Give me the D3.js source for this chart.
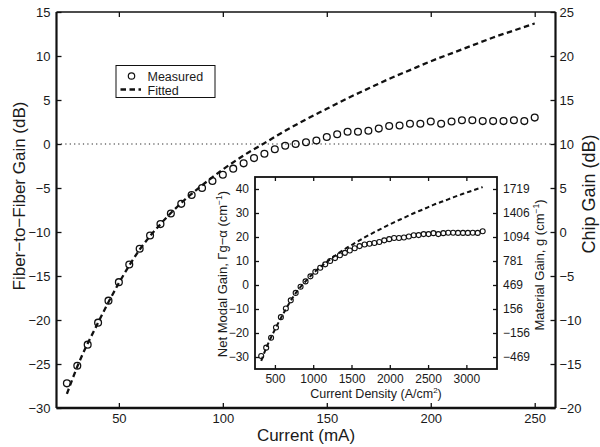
<!DOCTYPE html>
<html><head><meta charset="utf-8">
<script src="https://cdn.jsdelivr.net/npm/d3@7"></script>
<style>
body{margin:0;background:#fff}
svg{display:block}
text{font-family:"Liberation Sans",Arial,sans-serif;fill:#1a1a1a}
</style>
</head><body>
<svg id="chart" width="600" height="447"></svg>
<script>
// ---------- data ----------
const currents = [25,30,35,40,45,50,55,60,65,70,75,80,85,90,95,100,105,110,115,120,125,130,135,140,145,150,155,160,165,170,175,180,185,190,195,200,205,210,215,220,225,230,235,240,245,250];
const measuredGain = [-27.2,-25.2,-22.8,-20.3,-17.8,-15.7,-13.7,-11.9,-10.4,-9.1,-7.9,-6.8,-5.8,-5.0,-4.2,-3.5,-2.8,-2.2,-1.6,-1.1,-0.6,-0.2,0.0,0.2,0.4,0.8,1.1,1.4,1.4,1.5,1.75,2.05,2.1,2.3,2.3,2.55,2.3,2.55,2.7,2.7,2.6,2.6,2.6,2.7,2.6,3.0];
const fitCurrents = [25,30,40,50,60,70,80,90,100,110,120,130,140,150,160,170,180,190,200,210,220,230,240,250];
const fittedGain = [-28.4,-25.3,-20.3,-15.8,-12.0,-9.1,-6.7,-4.7,-2.9,-1.3,0.1,1.5,2.8,4.0,5.2,6.3,7.4,8.4,9.4,10.3,11.2,12.1,12.9,13.7];

const insetDensity = [321,386,450,514,578,643,707,771,835,900,964,1028,1092,1157,1221,1285,1349,1414,1478,1542,1606,1671,1735,1799,1863,1928,1992,2056,2120,2185,2249,2313,2377,2442,2506,2570,2634,2699,2763,2827,2891,2956,3020,3084,3148,3213];
const insetMeasured = [-29.6,-26.1,-22.0,-17.7,-13.4,-9.8,-6.4,-3.3,-0.7,1.5,3.6,5.5,7.2,8.6,10.0,11.2,12.4,13.4,14.4,15.3,16.2,16.9,17.2,17.5,17.9,18.6,19.1,19.6,19.6,19.8,20.2,20.7,20.8,21.2,21.2,21.6,21.2,21.6,21.8,21.8,21.7,21.7,21.7,21.8,21.7,22.4];
const insetFitDensity = [321,386,514,643,771,900,1028,1157,1285,1414,1542,1671,1799,1928,2056,2185,2313,2442,2570,2699,2827,2956,3084,3213];
const insetFitted = [-31.6,-26.3,-17.7,-10.0,-3.4,1.5,5.7,9.1,12.2,15.0,17.4,19.8,22.0,24.1,26.1,28.0,29.9,31.6,33.4,34.9,36.5,38.0,39.4,40.8];

const xTicks = [50,100,150,200,250];
const leftTicks = [-30,-25,-20,-15,-10,-5,0,5,10,15];
const rightTicks = [-20,-15,-10,-5,0,5,10,15,20,25];
const insetXTicks = [500,1000,1500,2000,2500,3000];
const insetLeftTicks = [-30,-20,-10,0,10,20,30,40];
const insetRightLabels = ["\u2212469","\u2212156","156","469","781","1094","1406","1719"];

// ---------- layout ----------
const svg = d3.select("#chart");
const M = {l:56.5, r:555.5, t:12, b:408};
const I = {l:255, r:497, t:177, b:369};

const x = d3.scaleLinear().domain([20,260]).range([M.l,M.r]);
const yL = d3.scaleLinear().domain([-30,15]).range([M.b,M.t]);
const yR = d3.scaleLinear().domain([-20,25]).range([M.b,M.t]);
const ix = d3.scaleLinear().domain([240,3400]).range([I.l,I.r]);
const iy = d3.scaleLinear().domain([-35,45]).range([I.b,I.t]);

const fmt = d => d<0 ? "\u2212"+Math.abs(d) : String(d);

function styleAxis(g, fs){
  g.select(".domain").remove();
  g.selectAll(".tick line").attr("stroke","#111").attr("stroke-width",1.3);
  g.selectAll(".tick text").attr("font-size",fs).attr("fill","#1a1a1a")
   .style("font-family",'"Liberation Sans",Arial,sans-serif');
}

// ---------- main axes ----------
svg.append("g").attr("transform",`translate(0,${M.b})`)
  .call(d3.axisBottom(x).tickValues(xTicks).tickSize(-5).tickPadding(6).tickFormat(fmt))
  .call(g=>styleAxis(g,13));
svg.append("g").attr("transform",`translate(0,${M.t})`)
  .call(d3.axisTop(x).tickValues(xTicks).tickSize(-5).tickFormat(""))
  .call(g=>styleAxis(g,13));
svg.append("g").attr("transform",`translate(${M.l},0)`)
  .call(d3.axisLeft(yL).tickValues(leftTicks).tickSize(-5).tickPadding(6).tickFormat(fmt))
  .call(g=>styleAxis(g,13));
svg.append("g").attr("transform",`translate(${M.r},0)`)
  .call(d3.axisRight(yR).tickValues(rightTicks).tickSize(-5).tickPadding(4).tickFormat(fmt))
  .call(g=>styleAxis(g,13));

// frame
svg.append("line").attr("x1",M.l).attr("x2",M.r).attr("y1",M.t).attr("y2",M.t).attr("stroke","#111").attr("stroke-width",1.6);
svg.append("line").attr("x1",M.l).attr("x2",M.r).attr("y1",M.b).attr("y2",M.b).attr("stroke","#111").attr("stroke-width",2.4);
svg.append("line").attr("x1",M.l).attr("x2",M.l).attr("y1",M.t).attr("y2",M.b).attr("stroke","#111").attr("stroke-width",2.2);
svg.append("line").attr("x1",M.r).attr("x2",M.r).attr("y1",M.t).attr("y2",M.b).attr("stroke","#111").attr("stroke-width",2.2);

// zero dotted line
svg.append("line").attr("x1",M.l).attr("x2",M.r).attr("y1",yL(0)).attr("y2",yL(0))
  .attr("stroke","#222").attr("stroke-width",1.1).attr("stroke-dasharray","1.2,3.2");

// fitted
const mainLine = d3.line().x((d,i)=>x(fitCurrents[i])).y(d=>yL(d)).curve(d3.curveMonotoneX);
svg.append("path").attr("d",mainLine(fittedGain)).attr("fill","none")
  .attr("stroke","#111").attr("stroke-width",2.3).attr("stroke-dasharray","5.5,3.5");

// measured
svg.append("g").selectAll("circle").data(measuredGain).join("circle")
  .attr("cx",(d,i)=>x(currents[i])).attr("cy",d=>yL(d)).attr("r",3.4)
  .attr("fill","none").attr("stroke","#111").attr("stroke-width",1.3);

// axis labels
svg.append("text").attr("x",(M.l+M.r)/2).attr("y",441).attr("text-anchor","middle")
  .attr("font-size",17).text("Current (mA)");
svg.append("text").attr("transform",`translate(24.5,196) rotate(-90)`).attr("text-anchor","middle")
  .attr("font-size",17).text("Fiber\u2212to\u2212Fiber Gain (dB)");
svg.append("text").attr("transform",`translate(595,194) rotate(-90)`).attr("text-anchor","middle")
  .attr("font-size",18).text("Chip Gain (dB)");

// legend
const lg = svg.append("g");
lg.append("rect").attr("x",116).attr("y",65.5).attr("width",99).attr("height",32)
  .attr("fill","#fff").attr("stroke","#111").attr("stroke-width",1);
lg.append("circle").attr("cx",131.5).attr("cy",76).attr("r",3.2).attr("fill","none").attr("stroke","#111").attr("stroke-width",1.2);
lg.append("line").attr("x1",120.5).attr("x2",141).attr("y1",89.5).attr("y2",89.5)
  .attr("stroke","#111").attr("stroke-width",2.3).attr("stroke-dasharray","5.5,3.5");
lg.append("text").attr("x",147.5).attr("y",80.5).attr("font-size",12.5).text("Measured");
lg.append("text").attr("x",147.5).attr("y",94.5).attr("font-size",12.5).text("Fitted");

// ---------- inset ----------
const ins = svg.append("g");
ins.append("rect").attr("x",I.l).attr("y",I.t).attr("width",I.r-I.l).attr("height",I.b-I.t)
  .attr("fill","#fff").attr("stroke","none");

ins.append("g").attr("transform",`translate(0,${I.b})`)
  .call(d3.axisBottom(ix).tickValues(insetXTicks).tickSize(-4).tickPadding(5).tickFormat(d3.format("d")))
  .call(g=>styleAxis(g,12));
ins.append("g").attr("transform",`translate(0,${I.t})`)
  .call(d3.axisTop(ix).tickValues(insetXTicks).tickSize(-4).tickFormat(""))
  .call(g=>styleAxis(g,12));
ins.append("g").attr("transform",`translate(${I.l},0)`)
  .call(d3.axisLeft(iy).tickValues(insetLeftTicks).tickSize(-4).tickPadding(6).tickFormat(fmt))
  .call(g=>styleAxis(g,12));
ins.append("g").attr("transform",`translate(${I.r},0)`)
  .call(d3.axisRight(iy).tickValues(insetLeftTicks).tickSize(-4).tickPadding(6)
    .tickFormat((d,i)=>insetRightLabels[i]))
  .call(g=>styleAxis(g,12));

ins.append("rect").attr("x",I.l).attr("y",I.t).attr("width",I.r-I.l).attr("height",I.b-I.t)
  .attr("fill","none").attr("stroke","#111").attr("stroke-width",1.8);

const insLine = d3.line().x((d,i)=>ix(insetFitDensity[i])).y(d=>iy(d)).curve(d3.curveMonotoneX);
ins.append("path").attr("d",insLine(insetFitted)).attr("fill","none")
  .attr("stroke","#111").attr("stroke-width",2).attr("stroke-dasharray","4.5,3");
ins.append("g").selectAll("circle").data(insetMeasured).join("circle")
  .attr("cx",(d,i)=>ix(insetDensity[i])).attr("cy",d=>iy(d)).attr("r",2.5)
  .attr("fill","none").attr("stroke","#111").attr("stroke-width",1.1);

// inset labels
const xl = ins.append("text").attr("x",(I.l+I.r)/2).attr("y",398).attr("text-anchor","middle").attr("font-size",12.5);
xl.append("tspan").text("Current Density (A/cm");
xl.append("tspan").attr("font-size",8).attr("dy",-5).text("2");
xl.append("tspan").attr("dy",5).text(")");

const yl = ins.append("text").attr("transform",`translate(227,274) rotate(-90)`)
  .attr("text-anchor","middle").attr("font-size",13);
yl.append("tspan").text("Net Modal Gain, \u0393g\u2212\u03b1 (cm");
yl.append("tspan").attr("font-size",8.5).attr("dy",-5).text("\u22121");
yl.append("tspan").attr("dy",5).text(")");

const yr = ins.append("text").attr("transform",`translate(544,265) rotate(-90)`)
  .attr("text-anchor","middle").attr("font-size",13);
yr.append("tspan").text("Material Gain, g (cm");
yr.append("tspan").attr("font-size",8.5).attr("dy",-5).text("\u22121");
yr.append("tspan").attr("dy",5).text(")");
</script>
</body></html>
